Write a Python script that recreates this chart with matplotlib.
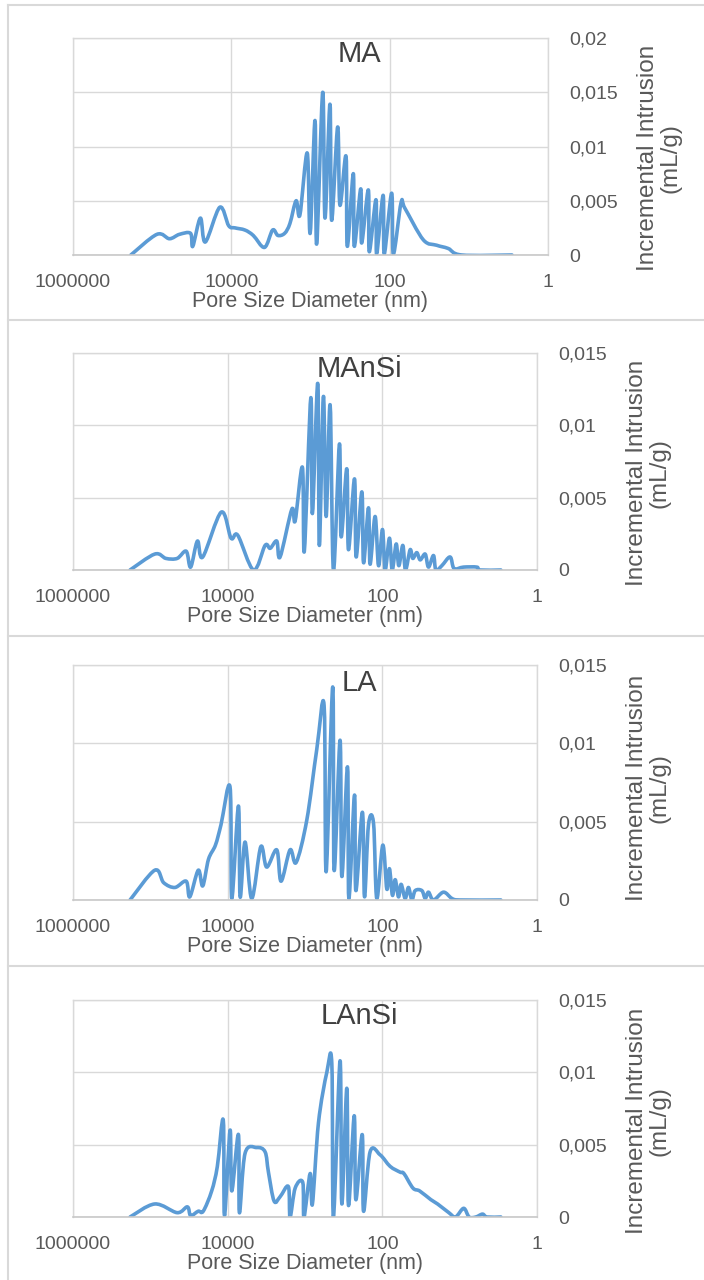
import numpy as np
import matplotlib
matplotlib.use("Agg")
import matplotlib.pyplot as plt
from matplotlib.path import Path
from matplotlib.patches import PathPatch
from matplotlib.lines import Line2D
from matplotlib.ticker import FixedLocator, FixedFormatter, NullLocator

plt.rcParams['font.family'] = ['Liberation Sans', 'DejaVu Sans']

# ---------------- data ----------------
x_ticks = [1e6, 1e4, 1e2, 1]
x_tick_labels = ["1000000", "10000", "100", "1"]
x_label = "Pore Size Diameter (nm)"
y_label = "Incremental Intrusion\n(mL/g)"

panel_names = ["MA", "MAnSi", "LA", "LAnSi"]

y_ticks_ma = [0, 0.005, 0.01, 0.015, 0.02]
y_tick_labels_ma = ["0", "0,005", "0,01", "0,015", "0,02"]
y_ticks_rest = [0, 0.005, 0.01, 0.015]
y_tick_labels_rest = ["0", "0,005", "0,01", "0,015"]

ma_diameter = [186000, 87300, 60500, 45400, 32800, 30700, 24600, 21300, 14000,
               10800, 8990, 6730, 5280, 3810, 3010, 2580, 2120, 1820, 1520, 1360,
               1100, 1010, 877, 836, 701, 656, 568, 541, 454, 425, 356, 343, 288,
               280, 232, 226, 186, 181, 149, 146, 121, 117, 94.4, 89.9, 71.9, 64.1,
               37.6, 25.5, 18.2, 12.3, 2.85]
ma_intrusion = [0, 0.0019, 0.0015, 0.0019, 0.0020, 0.0008, 0.0034, 0.0012, 0.0044,
                0.0027, 0.0025, 0.0023, 0.0018, 0.0007, 0.0023, 0.0018, 0.0020, 0.0029,
                0.0050, 0.0037, 0.0094, 0.0020, 0.0124, 0.0010, 0.0150, 0.0034, 0.0139,
                0.0032, 0.0118, 0.0046, 0.0091, 0.0008, 0.0075, 0.0008, 0.0061, 0.0011,
                0.0060, 0.0003, 0.0051, 0.0001, 0.0055, 0.0001, 0.0057, 0.0001, 0.0048,
                0.0043, 0.0014, 0.0009, 0.0006, 0.0, 0.0]

mansi_diameter = [183000, 87700, 62800, 45000, 34400, 30100, 24600, 21000, 12100,
                  9040, 7400, 4630, 3280, 2820, 2320, 2100, 1480, 1340, 1080, 1020,
                  841, 802, 684, 652, 578, 533, 473, 429, 359, 341, 288, 274, 229,
                  218, 184, 175, 151, 144, 124, 112, 99.5, 92.0, 80.9, 74.6, 66.2,
                  61.2, 54.3, 50.2, 43.7, 40.4, 35.8, 32.4, 27.9, 25.3, 21.8, 20.3,
                  17.0, 13.3, 11.8, 8.93, 6.00, 5.43, 2.93]
mansi_intrusion = [0, 0.0011, 0.0008, 0.0008, 0.0013, 0.0002, 0.0020, 0.0009, 0.0040,
                   0.0022, 0.0024, 0.0, 0.0017, 0.0015, 0.0020, 0.0009, 0.0042, 0.0034,
                   0.0071, 0.0013, 0.0119, 0.0039, 0.0129, 0.0017, 0.0120, 0.0037,
                   0.0114, 0.0, 0.0087, 0.0023, 0.0070, 0.0014, 0.0063, 0.0009, 0.0054,
                   0.0005, 0.0043, 0.0004, 0.0037, 0.0003, 0.0028, 0.0, 0.0022, 0.0,
                   0.0018, 0.0003, 0.0017, 0.0, 0.0014, 0.0008, 0.0012, 0.0007, 0.0011,
                   0.0002, 0.0010, 0.0, 0.0003, 0.0009, 0.0001, 0.0002, 0.0002, 0.0, 0.0]

la_diameter = [183000, 87700, 67100, 48100, 34400, 30900, 24000, 21000, 17700, 14400,
               12200, 9310, 8850, 7260, 6900, 5960, 4890, 3730, 3130, 2320, 2040, 1560,
               1300, 948, 705, 566, 533, 438, 420, 352, 334, 282, 271, 229, 220, 181,
               170, 151, 130, 118, 98.6, 87.5, 80.9, 74.0, 68.2, 61.8, 57.1, 50.7,
               45.9, 41.5, 37.6, 30.8, 27.9, 25.3, 21.8, 16.2, 12.6, 9.84, 2.93]
la_intrusion = [0, 0.0019, 0.0011, 0.0008, 0.0012, 0.0002, 0.0019, 0.0009, 0.0026,
                0.0035, 0.0048, 0.0072, 0.0001, 0.0060, 0.0002, 0.0037, 0.0001, 0.0034,
                0.0021, 0.0032, 0.0012, 0.0032, 0.0024, 0.0051, 0.0096, 0.0124, 0.0018,
                0.0136, 0.0019, 0.0102, 0.0015, 0.0085, 0.0001, 0.0067, 0.0006, 0.0056,
                0.0002, 0.0048, 0.0049, 0.0001, 0.0035, 0.0007, 0.0020, 0.0003, 0.0013,
                0.0002, 0.0010, 0.0001, 0.0008, 0.0, 0.0006, 0.0006, 0.0001, 0.0005,
                0.0, 0.0005, 0.0001, 0.0, 0.0]

lansi_diameter = [183000, 87700, 45000, 33200, 30100, 24000, 20700, 16100, 13600,
                  11400, 11000, 9310, 8850, 7260, 7050, 5960, 4210, 3280, 2970, 2510,
                  2100, 1640, 1560, 1340, 1070, 1030, 859, 802, 670, 522, 450, 429,
                  352, 334, 288, 274, 231, 220, 182, 175, 144, 107, 79.3, 58.9, 52.5,
                  40.2, 32.9, 23.6, 19.3, 13.8, 11.3, 8.87, 7.55, 6.18, 5.06, 4.43, 2.93]
lansi_intrusion = [0, 0.0009, 0.0003, 0.0007, 0.0001, 0.0004, 0.0004, 0.0018, 0.0035,
                   0.0067, 0.0001, 0.0060, 0.0018, 0.0057, 0.0003, 0.0044, 0.0048,
                   0.0045, 0.0031, 0.0011, 0.0014, 0.0021, 0.0, 0.0020, 0.0024, 0.0,
                   0.0030, 0.0009, 0.0065, 0.0100, 0.0106, 0.0, 0.0108, 0.0009, 0.0089,
                   0.0008, 0.0070, 0.0012, 0.0057, 0.0004, 0.0045, 0.0043, 0.0035,
                   0.0031, 0.0030, 0.0020, 0.0018, 0.0012, 0.0009, 0.0003, 0.0, 0.0006,
                   0.0, 0.0, 0.0002, 0.0, 0.0]

series = [(ma_diameter, ma_intrusion), (mansi_diameter, mansi_intrusion),
          (la_diameter, la_intrusion), (lansi_diameter, lansi_intrusion)]

# ---------------- layout (pixels) ----------------
W, H = 704, 1280
boxes = [(73, 38, 548, 255), (73, 353, 537, 570), (73, 665, 537, 900), (73, 1000, 537, 1217)]
title_base = [62, 377, 691, 1024]
ylabel_cy = [158, 473, 788, 1121]

LINE = "#5B9BD5"
GRID = "#D9D9D9"
TXT = "#595959"

fig = plt.figure(figsize=(W / 100, H / 100), dpi=100)
fig.patch.set_facecolor("white")


def smooth_line(ax, xs, ys, **kw):
    pts = ax.transData.transform(np.column_stack([xs, ys]))
    n = len(pts)
    verts = [pts[0]]
    codes = [Path.MOVETO]
    for i in range(n - 1):
        p0 = pts[i - 1] if i > 0 else pts[i]
        p1 = pts[i]
        p2 = pts[i + 1]
        p3 = pts[i + 2] if i + 2 < n else pts[i + 1]
        c1 = p1 + (p2 - p0) / 6.0
        c2 = p2 - (p3 - p1) / 6.0
        verts += [c1, c2, p2]
        codes += [Path.CURVE4] * 3
    dv = ax.transData.inverted().transform(np.array(verts))
    patch = PathPatch(Path(dv, codes), fill=False, transform=ax.transData, **kw)
    ax.add_patch(patch)


for k, (name, (dia, val), (l, t, r, b)) in enumerate(zip(panel_names, series, boxes)):
    ax = fig.add_axes([l / W, 1 - b / H, (r - l) / W, (b - t) / H])
    ax.set_xscale("log")
    ymax = 0.02 if k == 0 else 0.015
    ax.set_xlim(1e6, 1)
    ax.set_ylim(0, ymax)
    ax.xaxis.set_major_locator(FixedLocator(x_ticks))
    ax.xaxis.set_major_formatter(FixedFormatter(x_tick_labels))
    ax.xaxis.set_minor_locator(NullLocator())
    yt = y_ticks_ma if k == 0 else y_ticks_rest
    ytl = y_tick_labels_ma if k == 0 else y_tick_labels_rest
    ax.yaxis.tick_right()
    ax.set_yticks(yt)
    ax.set_yticklabels(ytl)
    ax.tick_params(axis="both", length=0, labelsize=14, labelcolor=TXT)
    ax.tick_params(axis="x", pad=14)
    ax.tick_params(axis="y", pad=15)
    ax.grid(True, color=GRID, lw=1.0)
    ax.set_axisbelow(True)
    for s in ["top", "left", "right"]:
        ax.spines[s].set_color(GRID)
        ax.spines[s].set_linewidth(1.0)
    ax.spines["bottom"].set_color("#C8C8C8")
    ax.spines["bottom"].set_linewidth(1.2)

    smooth_line(ax, dia, val, edgecolor=LINE, lw=2.6, capstyle="round", joinstyle="round")
    ax.set_xlim(1e6, 1)
    ax.set_ylim(0, ymax)

    cx = (l + r) / 2
    fig.text(359 / W, 1 - title_base[k] / H, name, ha="center", va="baseline",
             fontsize=21, color="#404040")
    fig.text(cx / W, 1 - (b + 36) / H, x_label, ha="center", va="top",
             fontsize=15.5, color=TXT)
    fig.text((r + 111) / W, 1 - ylabel_cy[k] / H, y_label, rotation=90, ha="center",
             va="center", multialignment="center", fontsize=17.5, color=TXT,
             linespacing=1.05)

# chart borders
border = "#D9D9D9"
fig.add_artist(Line2D([8 / W, 8 / W], [1 - 5 / H, 0], transform=fig.transFigure,
                      color=border, lw=1.5))
for yy in [5, 320, 636, 966]:
    fig.add_artist(Line2D([8 / W, 1], [1 - yy / H, 1 - yy / H], transform=fig.transFigure,
                          color=border, lw=1.5))

fig.savefig("out.png", dpi=100, facecolor="white")
